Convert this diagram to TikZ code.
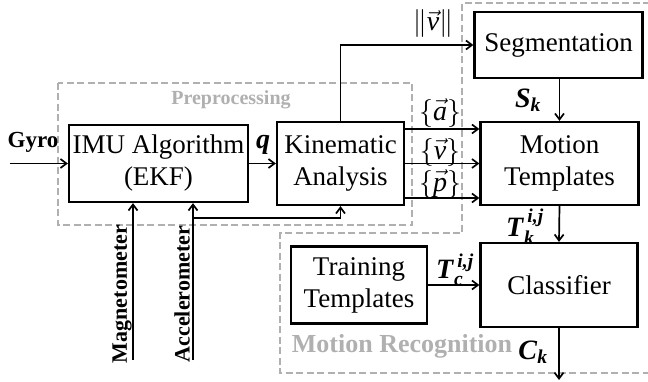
\RequirePackage{fix-cm}
\documentclass[tikz,border=0pt]{standalone}
\usepackage{amsmath}
\usepackage{fontspec}
\setmainfont{Liberation Serif}
\usetikzlibrary{arrows.meta}
\definecolor{groupgray}{RGB}{176,176,176}
\newcommand{\bmi}[1]{\textbf{\textit{#1}}}

\begin{document}
\begin{tikzpicture}[x=1pt, y=1pt,
        block/.style={draw, line width=2.2pt, align=center, inner sep=0pt,
            font=\fontsize{27}{32}\selectfont},
        flow/.style={line width=1.7pt, -{Straight Barb[length=6pt,width=9pt]}},
        sig/.style={inner sep=0pt, font=\fontsize{28}{30}\selectfont},
        sensor/.style={inner sep=0pt, font=\bfseries\fontsize{22}{24}\selectfont},
        group/.style={draw=groupgray, line width=1.8pt, dash pattern=on 7pt off 3.5pt},
        grouplbl/.style={inner sep=0pt, text=groupgray}]

        \useasboundingbox (0,0) rectangle (648,381);

        % Groups (dashed frames)
        \draw[group] (58,298) rectangle (412,156);
        \draw[group] (650,378) -- (462,378) -- (462,148) -- (280,148) -- (280,8) -- (650,8);
        \node[grouplbl, font=\bfseries\fontsize{20}{22}\selectfont] (PreLbl) at (231,281) {Preprocessing};
        \node[grouplbl, font=\bfseries\fontsize{26}{28}\selectfont] (RecLbl) at (402,35) {Motion Recognition};

        % Nodes (blocks)
        \node[block, minimum width=179pt, minimum height=77pt] (IMU) at (158.5,217.5) {IMU Algorithm\\(EKF)};
        \node[block, minimum width=127pt, minimum height=83pt] (Kin) at (340.5,217.5) {Kinematic\\Analysis};
        \node[block, minimum width=168pt, minimum height=66pt] (Seg) at (558.5,336) {Segmentation};
        \node[block, minimum width=158pt, minimum height=83pt] (Mot) at (559.5,217.5) {Motion\\Templates};
        \node[block, minimum width=157pt, minimum height=84pt] (Cls) at (559,96) {Classifier};
        \node[block, minimum width=136pt, minimum height=77pt] (Trn) at (359,96) {Training\\Templates};

        % Inputs and output
        \coordinate (GyroIn) at (10,217.5);
        \coordinate (MagIn) at (133,21);
        \coordinate (AccIn) at (193,21);
        \coordinate (AccSplit) at (193,163);
        \coordinate (CkOut) at (559,1);

        % Sensor labels
        \node[sensor, font=\bfseries\fontsize{23}{25}\selectfont] (GyroLbl) at (33,239) {Gyro};
        \node[sensor, rotate=90] (MagLbl) at (122,87) {Magnetometer};
        \node[sensor, rotate=90] (AccLbl) at (182,87) {Accelerometer};

        % Signal labels
        \node[sig] (QLbl) at (263,236) {\bmi{q}};
        \node[sig] (NormLbl) at (433,357) {$\|\vec{\textit{v}}\|$};
        \node[sig] (ALbl) at (440,268) {$\{\vec{\textit{a}}\}$};
        \node[sig] (VLbl) at (440,229) {$\{\vec{\textit{v}}\}$};
        \node[sig] (PLbl) at (440,197) {$\{\vec{\textit{p}}\}$};
        \node[sig] (SkLbl) at (528,281) {$\bmi{S}_{\bmi{k}}$};
        \node[sig] (TkLbl) at (525,154) {$\bmi{T}_{\bmi{k}}^{\,\bmi{i,j}}$};
        \node[sig] (TcLbl) at (455,111) {$\bmi{T}_{\bmi{c}}^{\,\bmi{i,j}}$};
        \node[sig] (CkLbl) at (533,29) {$\bmi{C}_{\bmi{k}}$};

        % Connectors
        \draw[flow] (GyroIn) -- (IMU.west);
        \draw[flow] (IMU.east) -- (Kin.west);
        \draw[flow] (MagIn) -- (MagIn |- IMU.south);
        \draw[flow] (AccIn) -- (AccIn |- IMU.south);
        \draw[flow] (AccSplit) -| (Kin.south);
        \draw[flow] (Kin.north) |- (Seg.west);

        \draw[flow] ([yshift=34.5pt]Kin.east) -- ([yshift=34.5pt]Mot.west);
        \draw[flow] (Kin.east) -- (Mot.west);
        \draw[flow] ([yshift=-34.5pt]Kin.east) -- ([yshift=-34.5pt]Mot.west);

        \draw[flow] (Seg.south -| Mot.north) -- (Mot.north);
        \draw[flow] (Mot.south) -- (Cls.north);
        \draw[flow] (Trn.east) -- (Cls.west);
        \draw[flow] (Cls.south) -- (CkOut);

    \end{tikzpicture}
\end{document}
